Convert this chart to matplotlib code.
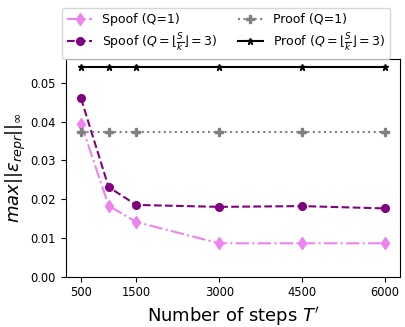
import matplotlib
matplotlib.use("Agg")
import matplotlib.pyplot as plt

steps = [500, 1000, 1500, 3000, 4500, 6000]
spoof_q1 = [0.0395, 0.0183, 0.0141, 0.0086, 0.0086, 0.0086]
spoof_q3 = [0.0460, 0.0231, 0.0185, 0.0180, 0.0182, 0.0176]
proof_q1 = [0.0372, 0.0372, 0.0372, 0.0372, 0.0372, 0.0372]
proof_q3 = [0.0540, 0.0540, 0.0540, 0.0540, 0.0540, 0.0540]
xticks = [500, 1500, 3000, 4500, 6000]

fig = plt.figure(figsize=(4.06, 3.27), dpi=100)
ax = fig.add_axes([0.162, 0.154, 0.824, 0.667])

ax.plot(steps, spoof_q1, color='violet', linestyle='-.', marker='d', markersize=6, label='Spoof (Q=1)')
ax.plot(steps, spoof_q3, color='purple', linestyle='--', marker='o', markersize=5.5, label=r'Spoof ($Q=\lfloor\frac{S}{k}\rfloor=3$)')
ax.plot(steps, proof_q1, color='grey', linestyle=':', marker='P', markersize=5.5, label='Proof (Q=1)')
ax.plot(steps, proof_q3, color='black', linestyle='-', marker='*', markersize=5, label=r'Proof ($Q=\lfloor\frac{S}{k}\rfloor=3$)')

ax.set_ylim(bottom=0)
ax.set_xticks(xticks)
ax.tick_params(labelsize=8.3)
ax.set_xlabel(r"Number of steps $T'$", fontsize=13)
ax.set_ylabel(r'$max||\epsilon_{repr}||_\infty$', fontsize=13, labelpad=2)
ax.legend(loc='lower center', bbox_to_anchor=(0.48, 1.0), ncol=2, fontsize=9,
          borderaxespad=0.0, labelspacing=0.4, columnspacing=1.6)

fig.savefig('out.png', dpi=100)
